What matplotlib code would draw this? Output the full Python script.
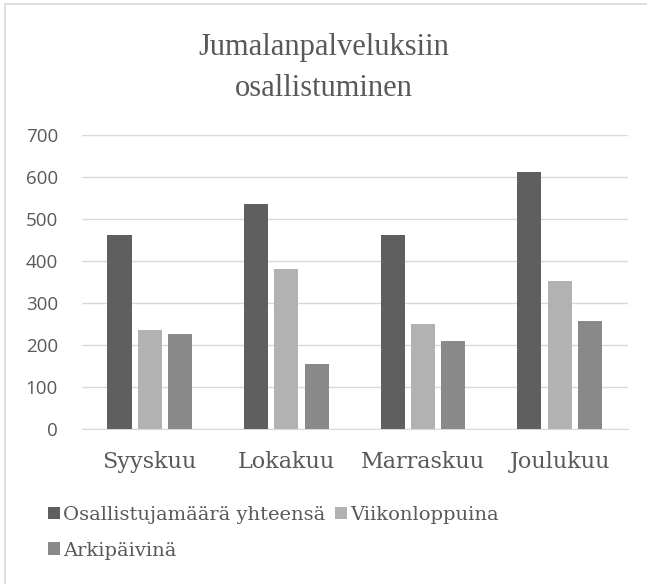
import numpy as np
import matplotlib.pyplot as plt
from matplotlib.patches import Rectangle, Patch

months = ["Syyskuu", "Lokakuu", "Marraskuu", "Joulukuu"]
series_names = ["Osallistujamäärä yhteensä", "Viikonloppuina", "Arkipäivinä"]
total = [461, 535, 461, 610]
weekend = [234, 379, 250, 352]
weekday = [225, 154, 208, 256]
yticks = [0, 100, 200, 300, 400, 500, 600, 700]

colors = ['#5f5f5f', '#b2b2b2', '#898989']
text_col = '#595959'
serif = 'DejaVu Serif'

fig = plt.figure(figsize=(6.47, 5.84), dpi=100)
ax = fig.add_axes([81.5 / 647, 1 - 428.5 / 584, 546.5 / 647, 294 / 584])

x = np.arange(len(months))
step = 0.222
w = 0.176
handles = []
for i, (vals, c) in enumerate(zip([total, weekend, weekday], colors)):
    ax.bar(x + (i - 1) * step, vals, width=w, color=c, zorder=3)
    handles.append(Patch(facecolor=c, edgecolor='none'))

ax.set_xlim(-0.5, 3.5)
ax.set_ylim(0, 700)
ax.set_yticks(yticks)
ax.set_yticklabels([str(t) for t in yticks], fontsize=13.5, color=text_col,
                   family='Open Sans')
ax.set_xticks(x)
ax.set_xticklabels(months, fontsize=16, color=text_col, family=serif)
ax.tick_params(axis='both', length=0)
ax.tick_params(axis='x', pad=16)
ax.tick_params(axis='y', pad=17)
ax.grid(axis='y', color='#d9d9d9', linewidth=1, zorder=0)
for s in ['top', 'right', 'left']:
    ax.spines[s].set_visible(False)
ax.spines['bottom'].set_color('#d9d9d9')

fig.text(0.5, 1 - 96 / 584, "Jumalanpalveluksiin\nosallistuminen", ha='center',
         va='baseline', fontsize=22, color=text_col, family='Liberation Serif',
         linespacing=1.55)

order = [0, 2, 1]
fig.legend([handles[k] for k in order], [series_names[k] for k in order],
           ncol=2, loc='upper left', bbox_to_anchor=(48 / 647, 1 - 506 / 584),
           frameon=False, borderpad=0, borderaxespad=0,
           handlelength=0.62, handleheight=0.62, handletextpad=0.15,
           columnspacing=0.5, labelspacing=0.9,
           prop={'family': serif, 'size': 14}, labelcolor=text_col)

# chart frame: only the left and top edges fall inside the image
fig.patches.append(Rectangle((4.5 / 647, -0.05), 1.1, 1.05 - 3.5 / 584,
                             transform=fig.transFigure, fill=False,
                             edgecolor='#d9d9d9', linewidth=1.2))

fig.savefig("out.png", dpi=100)
